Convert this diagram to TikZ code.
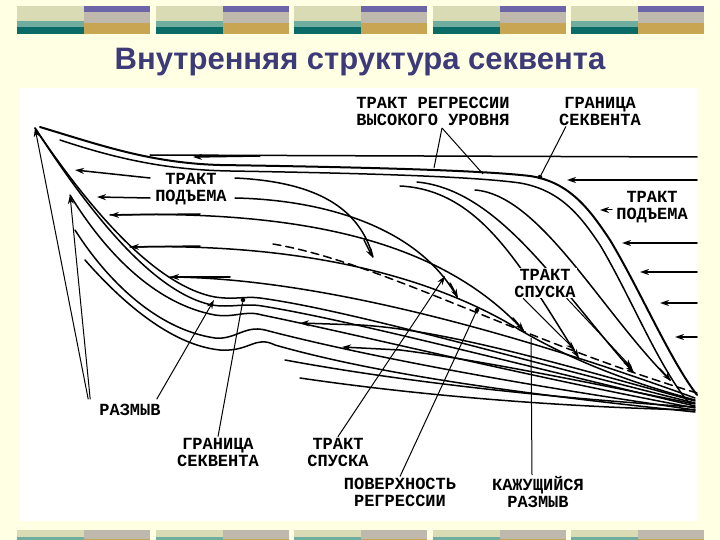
\documentclass[tikz,border=0pt]{standalone}
\usepackage{fontspec}
\setmainfont{Liberation Sans}
\newfontfamily\lbl{Liberation Mono}
\usetikzlibrary{arrows.meta}
\definecolor{bgy}{HTML}{FFFFE4}
\definecolor{pale}{HTML}{D9DBB4}
\definecolor{teal1}{HTML}{6FAE9E}
\definecolor{teal2}{HTML}{0B6B67}
\definecolor{purp}{HTML}{6C66A9}
\definecolor{lav}{HTML}{BEB8AD}
\definecolor{gold}{HTML}{C8A552}
\definecolor{ttl}{HTML}{3C3A78}
\tikzset{
 ln/.style={line width=1.5pt,line cap=round},
 ar/.style={ln,-{Stealth[length=9pt,width=6pt]}},
 lead/.style={line width=1pt},
 lab/.style={font=\lbl\bfseries\fontsize{17}{17}\selectfont,align=center,inner sep=1pt},
 dot/.style={circle,fill=black,inner sep=1.6pt},
}
\newcommand\blk[2]{%
 \fill[pale] (#1,#2) rectangle ++(67,15);
 \fill[teal1] (#1,#2+15) rectangle ++(67,6);
 \fill[teal2] (#1,#2+21) rectangle ++(67,7);
 \fill[purp] (#1+67,#2) rectangle ++(66,6);
 \fill[lav] (#1+67,#2+6) rectangle ++(66,11);
 \fill[gold] (#1+67,#2+17) rectangle ++(66,11);}
\begin{document}
\begin{tikzpicture}[x=1pt,y=-1pt]
\fill[bgy] (0,0) rectangle (720,540);
\useasboundingbox (0,0) rectangle (720,540);
\foreach \x in {17,156,294,433,571}{\blk{\x}{6}\blk{\x}{522}}
\fill[bgy] (0,521) rectangle (720,530);
\node[text=ttl,font=\bfseries\fontsize{31}{34}\selectfont] (title) at (360,62) {Внутренняя структура секвента};
\fill[white] (20,88) rectangle (697,521);
% top lines
\coordinate (L) at (35,128);
\draw[ln] (150,155) -- (697,157);
\draw[ar] (260,156) -- (193,157);
\draw[ln,line width=2pt] (40,127) .. controls (100,145) and (150,163) .. (220,165) .. controls (350,167) and (480,170) .. (530,176) .. controls (570,182) and (590,210) .. (610,240) .. controls (640,290) and (670,360) .. (697,395);
\draw[ln] (60,140) .. controls (120,160) and (170,170) .. (230,171) .. controls (350,173) and (470,176) .. (520,183) .. controls (560,190) and (580,215) .. (600,245) .. controls (630,295) and (660,370) .. (690,404);
% right arrows
\draw[ar] (697,180) -- (567,180);
\draw[ar] (697,243) -- (622,243);
\draw[ar] (697,272) -- (640,272);
\draw[ar] (697,303) -- (660,303);
\draw[ar] (697,337) -- (675,337);
% left fan
\draw[ln] (L) .. controls (80,195) and (150,285) .. (215,297) .. controls (235,300) and (245,296) .. (260,298) .. controls (350,310) and (520,360) .. (695,403);
\draw[ln] (L) .. controls (85,205) and (150,292) .. (212,305) .. controls (230,308) and (245,303) .. (262,306) .. controls (350,320) and (520,365) .. (695,406);
\draw[ln] (70,195) .. controls (110,260) and (160,305) .. (215,315) .. controls (235,318) and (245,310) .. (262,315) .. controls (360,335) and (520,375) .. (695,408);
\draw[ln] (75,230) .. controls (110,285) and (160,330) .. (215,338) .. controls (235,340) and (245,325) .. (265,330) .. controls (360,355) and (520,385) .. (695,410);
\draw[ln] (85,260) .. controls (120,300) and (170,345) .. (220,350) .. controls (250,352) and (255,335) .. (275,345) .. controls (380,375) and (530,395) .. (695,412);
% left arrows (onlap)
\draw[ar] (150,178) -- (75,170);
\draw[ln] (235,178) .. controls (320,182) and (360,210) .. (373,257);
\draw[-{Stealth[length=9pt,width=6pt]},ln] (364,240) -- (373,258);
\draw[ar] (150,198) -- (97,197);
\draw[ln] (235,198) .. controls (330,200) and (420,230) .. (457,297);
\draw[-{Stealth[length=9pt,width=6pt]},ln] (450,283) -- (458,298);
\draw[ln] (110,215) .. controls (300,210) and (440,240) .. (523,330);
\draw[-{Stealth[length=9pt,width=6pt]},ln] (200,214) -- (110,215);
\draw[-{Stealth[length=9pt,width=6pt]},ln] (513,318) -- (524,331);
\draw[ln] (400,186) .. controls (480,190) and (520,265) .. (578,357);
\draw[-{Stealth[length=9pt,width=6pt]},ln] (570,344) -- (579,358);
\draw[ln] (417,182) .. controls (500,190) and (560,290) .. (633,372);
\draw[-{Stealth[length=9pt,width=6pt]},ln] (624,361) -- (634,373);
\draw[ln] (475,190) .. controls (540,195) and (600,310) .. (670,380);
\draw[-{Stealth[length=9pt,width=6pt]},ln] (660,369) -- (671,381);
\draw[ln] (130,247) .. controls (300,243) and (430,275) .. (520,330) .. controls (580,365) and (640,385) .. (695,400);
\draw[-{Stealth[length=9pt,width=6pt]},ln] (200,246) -- (130,247);
\draw[ln,dashed,dash pattern=on 8pt off 5pt] (273,244) .. controls (380,262) and (520,340) .. (697,393);
\draw[ln] (170,277) .. controls (300,278) and (480,320) .. (695,398);
\draw[-{Stealth[length=9pt,width=6pt]},ln] (230,277) -- (170,277);
\draw[ar] (360,325) -- (300,323);
\draw[ln] (360,325) .. controls (450,330) and (580,370) .. (695,401);
\draw[ar] (400,350) -- (342,347);
\draw[ln] (400,350) .. controls (480,360) and (600,385) .. (695,404);
\draw[ln] (285,360) .. controls (420,385) and (580,400) .. (695,407);
\draw[ln] (300,378) .. controls (450,400) and (600,408) .. (695,410);
% labels
\node[lab] (tr) at (433,111) {ТРАКТ РЕГРЕССИИ\\ВЫСОКОГО УРОВНЯ};
\node[lab] (gs1) at (600,111) {ГРАНИЦА\\СЕКВЕНТА};
\node[lab,fill=white] (tp1) at (191,189) {ТРАКТ\\ПОДЪЕМА};
\node[lab,fill=white] (tp2) at (652,207) {ТРАКТ\\ПОДЪЕМА};
\node[lab,fill=white] (ts1) at (545,283) {ТРАКТ\\СПУСКА};
\node[lab] (rz) at (130,410) {РАЗМЫВ};
\node[lab] (gs2) at (218,452) {ГРАНИЦА\\СЕКВЕНТА};
\node[lab] (ts2) at (338,452) {ТРАКТ\\СПУСКА};
\node[lab] (pr) at (400,492) {ПОВЕРХНОСТЬ\\РЕГРЕССИИ};
\node[lab] (kr) at (538,492) {КАЖУЩИЙСЯ\\РАЗМЫВ};
% leaders
\coordinate (ap) at (442,128);
\draw[lead] (ap) -- (434,168); \draw[lead] (ap) -- (483,174);
\node[dot] (d1) at (540,177) {}; \draw[lead] (gs1.south west) ++(8,0) -- (d1);
\draw[ar,line width=1pt] (612,210) -- (600,210);
\draw[ar,line width=1pt] (ts1.south west) ++(10,0) -- (575,350);
\draw[ar,line width=1pt] (ts1.south east) ++(-10,0) -- (632,368);
\draw[ar,line width=1pt] (rz.north west) ++(-10,-4) -- (35,128);
\draw[ar,line width=1pt] (rz.north west) ++(-8,-4) -- (70,195);
\draw[ar,line width=1pt] (rz.north east) ++(-5,-4) -- (214,300);
\node[dot] (d2) at (243,300) {}; \draw[lead] (gs2.north) -- (d2);
\draw[ar,line width=1pt] (ts2.north) -- (445,276);
\node[dot] (d3) at (477,310) {}; \draw[lead] (pr.north) -- (d3);
\draw[lead] (kr.north) ++(-6,0) -- (531,338);
\end{tikzpicture}
\end{document}
